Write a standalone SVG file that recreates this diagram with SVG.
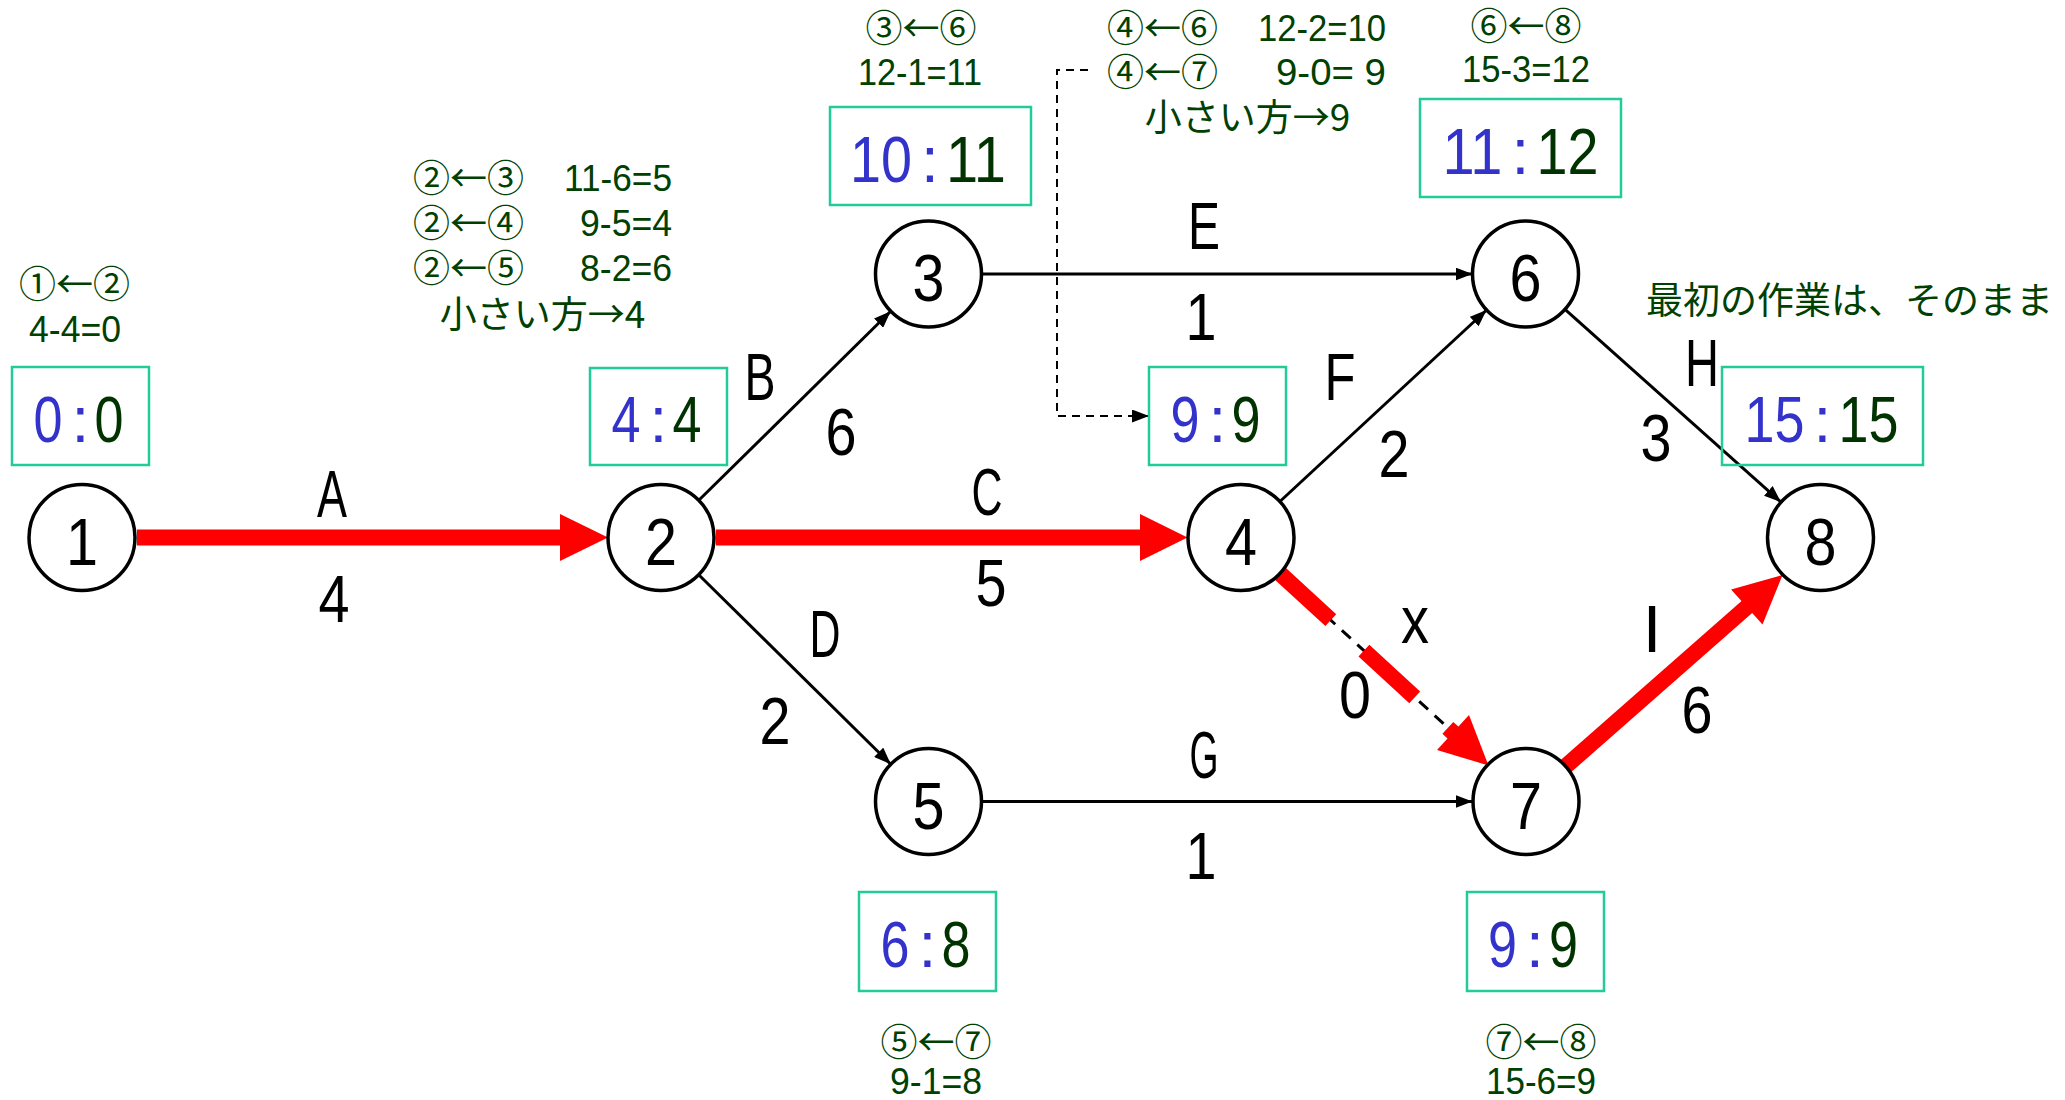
<svg xmlns="http://www.w3.org/2000/svg" width="2065" height="1100" viewBox="0 0 2065 1100">
<style>
.node{fill:#fff;stroke:#000;stroke-width:3.5}
.nl{font-family:'Liberation Sans',sans-serif;font-size:67px;fill:#000;text-anchor:middle}
.el{font-family:'Liberation Sans',sans-serif;font-size:67px;fill:#000;text-anchor:middle}
.box{fill:none;stroke:#22CC99;stroke-width:2.5}
.bt{font-family:'Liberation Sans',sans-serif;font-size:64px}
.es{fill:#3333CC}
.ls{fill:#003300}
.ann{font-family:'Liberation Sans','Noto Sans CJK JP',sans-serif;font-size:37px;fill:#004000}
.cjk{font-family:'Noto Sans CJK JP',sans-serif;font-size:37px;fill:#004000}
.blk{stroke:#000;stroke-width:3;fill:none}
.red{stroke:#FF0000;stroke-width:16;fill:none}
.redh{fill:#FF0000}
.mid{text-anchor:middle}
.end{text-anchor:end}
</style>
<defs>
<marker id="ah" markerUnits="userSpaceOnUse" viewBox="0 0 17 13" markerWidth="17" markerHeight="13" refX="17" refY="6.5" orient="auto">
<path d="M0,0 L17,6.5 L0,13 z" fill="#000"/>
</marker>
</defs>
<rect width="2065" height="1100" fill="#fff"/>

<g id="connectors">
<!-- A critical -->
<line class="red" x1="137" y1="537.5" x2="561" y2="537.5"/>
<polygon class="redh" points="560,514 608,537.5 560,561"/>
<!-- C critical -->
<line class="red" x1="716" y1="537.5" x2="1141" y2="537.5"/>
<polygon class="redh" points="1140,514 1187.5,537.5 1140,561"/>
<!-- B -->
<line class="blk" x1="698.8" y1="500.3" x2="890.7" y2="311.2" marker-end="url(#ah)"/>
<!-- D -->
<line class="blk" x1="698.7" y1="574.8" x2="890.8" y2="764.2" marker-end="url(#ah)"/>
<!-- E -->
<line class="blk" x1="981.5" y1="274" x2="1472.5" y2="274" marker-end="url(#ah)"/>
<!-- G -->
<line class="blk" x1="981.5" y1="801.5" x2="1472.5" y2="801.5" marker-end="url(#ah)"/>
<!-- F -->
<line class="blk" x1="1279.9" y1="501.5" x2="1486.6" y2="310" marker-end="url(#ah)"/>
<!-- H -->
<line class="blk" x1="1565" y1="309.3" x2="1781" y2="502.2" marker-end="url(#ah)"/>
<!-- x dummy (critical) -->
<line class="blk" x1="1280" y1="573.5" x2="1470" y2="748" stroke-dasharray="12 9"/>
<line class="red" x1="1280" y1="573.5" x2="1453.5" y2="733" stroke-dasharray="69 45"/>
<polygon class="redh" points="1437,750 1488.5,765.5 1469,715"/>
<!-- I critical -->
<line class="red" x1="1565.4" y1="766.6" x2="1748" y2="606"/>
<polygon class="redh" points="1731.1,589.6 1782.5,575 1762.5,624.6"/>
<!-- dashed pointer from annotation to box 9:9 -->
<path d="M1088,70 H1057 V416 H1149" fill="none" stroke="#000" stroke-width="2" stroke-dasharray="8 6" marker-end="url(#ah)"/>
</g>

<g id="edge-labels">
<text class="el" x="332" y="517" textLength="30" lengthAdjust="spacingAndGlyphs">A</text><text class="el" x="334" y="622" textLength="31" lengthAdjust="spacingAndGlyphs">4</text>
<text class="el" x="760" y="400" textLength="31" lengthAdjust="spacingAndGlyphs">B</text><text class="el" x="841" y="455" textLength="31" lengthAdjust="spacingAndGlyphs">6</text>
<text class="el" x="987" y="515" textLength="31" lengthAdjust="spacingAndGlyphs">C</text><text class="el" x="991" y="606" textLength="31" lengthAdjust="spacingAndGlyphs">5</text>
<text class="el" x="825" y="657" textLength="31" lengthAdjust="spacingAndGlyphs">D</text><text class="el" x="775" y="744" textLength="31" lengthAdjust="spacingAndGlyphs">2</text>
<text class="el" x="1204" y="249" textLength="32" lengthAdjust="spacingAndGlyphs">E</text><text class="el" x="1201" y="340" textLength="31" lengthAdjust="spacingAndGlyphs">1</text>
<text class="el" x="1340" y="400" textLength="31" lengthAdjust="spacingAndGlyphs">F</text><text class="el" x="1394" y="477" textLength="31" lengthAdjust="spacingAndGlyphs">2</text>
<text class="el" x="1204" y="778" textLength="29" lengthAdjust="spacingAndGlyphs">G</text><text class="el" x="1201" y="879" textLength="31" lengthAdjust="spacingAndGlyphs">1</text>
<text class="el" x="1702" y="386" textLength="34" lengthAdjust="spacingAndGlyphs">H</text><text class="el" x="1656" y="461" textLength="31" lengthAdjust="spacingAndGlyphs">3</text>
<text class="el" x="1652" y="652">I</text><text class="el" x="1697" y="733" textLength="31" lengthAdjust="spacingAndGlyphs">6</text>
<text class="el" x="1415" y="643" textLength="28" lengthAdjust="spacingAndGlyphs">x</text><text class="el" x="1355" y="718" textLength="32" lengthAdjust="spacingAndGlyphs">0</text>
</g>

<g id="node1">
<circle class="node" cx="82" cy="537.5" r="53"/>
<text class="nl" x="82" y="564.5" textLength="32" lengthAdjust="spacingAndGlyphs">1</text>
<rect class="box" x="12" y="367" width="137" height="98"/>
<text class="bt es end" x="62.5" y="442" textLength="29" lengthAdjust="spacingAndGlyphs">0</text><text class="bt es mid" x="80.5" y="442">:</text><text class="bt ls" x="94.5" y="442" textLength="29" lengthAdjust="spacingAndGlyphs">0</text>
<text class="cjk mid" x="74.6" y="298">①←②</text>
<text class="ann mid" x="75" y="342" textLength="92" lengthAdjust="spacingAndGlyphs">4-4=0</text>
</g>

<g id="node2">
<circle class="node" cx="661" cy="537.5" r="53"/>
<text class="nl" x="661" y="564.5" textLength="32" lengthAdjust="spacingAndGlyphs">2</text>
<rect class="box" x="590" y="368" width="137" height="97"/>
<text class="bt es end" x="640.5" y="442" textLength="29" lengthAdjust="spacingAndGlyphs">4</text><text class="bt es mid" x="658.5" y="442">:</text><text class="bt ls" x="672.5" y="442" textLength="29" lengthAdjust="spacingAndGlyphs">4</text>
<text class="cjk" x="413" y="192">②←③</text>
<text class="ann end" x="672" y="191" textLength="108" lengthAdjust="spacingAndGlyphs">11-6=5</text>
<text class="cjk" x="413" y="237">②←④</text>
<text class="ann end" x="672" y="236" textLength="92" lengthAdjust="spacingAndGlyphs">9-5=4</text>
<text class="cjk" x="413" y="282">②←⑤</text>
<text class="ann end" x="672" y="281" textLength="92" lengthAdjust="spacingAndGlyphs">8-2=6</text>
<text class="cjk mid" x="542.5" y="328">小さい方→4</text>
</g>

<g id="node3">
<circle class="node" cx="928.5" cy="274" r="53"/>
<text class="nl" x="928.5" y="301" textLength="32" lengthAdjust="spacingAndGlyphs">3</text>
<rect class="box" x="830" y="107" width="201" height="98"/>
<text class="bt es end" x="912" y="182" textLength="62" lengthAdjust="spacingAndGlyphs">10</text><text class="bt es mid" x="930" y="182">:</text><text class="bt ls" x="946" y="182" textLength="60" lengthAdjust="spacingAndGlyphs">11</text>
<text class="cjk mid" x="921" y="42">③←⑥</text>
<text class="ann mid" x="920" y="85" textLength="124" lengthAdjust="spacingAndGlyphs">12-1=11</text>
</g>

<g id="node4">
<circle class="node" cx="1241" cy="537.5" r="53"/>
<text class="nl" x="1241" y="564.5" textLength="32" lengthAdjust="spacingAndGlyphs">4</text>
<rect class="box" x="1149" y="367" width="137" height="98"/>
<text class="bt es end" x="1199.5" y="442" textLength="29" lengthAdjust="spacingAndGlyphs">9</text><text class="bt es mid" x="1217.5" y="442">:</text><text class="bt ls" x="1231.5" y="442" textLength="29" lengthAdjust="spacingAndGlyphs">9</text>
<text class="cjk" x="1107" y="42">④←⑥</text>
<text class="ann end" x="1386" y="41" textLength="128" lengthAdjust="spacingAndGlyphs">12-2=10</text>
<text class="cjk" x="1107" y="86">④←⑦</text>
<text class="ann end" x="1386" y="85" textLength="110" lengthAdjust="spacingAndGlyphs">9-0= 9</text>
<text class="cjk mid" x="1247.5" y="131">小さい方→9</text>
</g>

<g id="node5">
<circle class="node" cx="928.5" cy="801.5" r="53"/>
<text class="nl" x="928.5" y="828.5" textLength="32" lengthAdjust="spacingAndGlyphs">5</text>
<rect class="box" x="859" y="892" width="137" height="99"/>
<text class="bt es end" x="909.5" y="967" textLength="29" lengthAdjust="spacingAndGlyphs">6</text><text class="bt es mid" x="927.5" y="967">:</text><text class="bt ls" x="941.5" y="967" textLength="29" lengthAdjust="spacingAndGlyphs">8</text>
<text class="cjk mid" x="936" y="1056">⑤←⑦</text>
<text class="ann mid" x="936" y="1094" textLength="92" lengthAdjust="spacingAndGlyphs">9-1=8</text>
</g>

<g id="node6">
<circle class="node" cx="1525.5" cy="274" r="53"/>
<text class="nl" x="1525.5" y="301" textLength="32" lengthAdjust="spacingAndGlyphs">6</text>
<rect class="box" x="1420" y="99" width="201" height="98"/>
<text class="bt es end" x="1502.5" y="174" textLength="60" lengthAdjust="spacingAndGlyphs">11</text><text class="bt es mid" x="1520.5" y="174">:</text><text class="bt ls" x="1536.5" y="174" textLength="62" lengthAdjust="spacingAndGlyphs">12</text>
<text class="cjk mid" x="1526" y="40">⑥←⑧</text>
<text class="ann mid" x="1526" y="82" textLength="128" lengthAdjust="spacingAndGlyphs">15-3=12</text>
</g>

<g id="node7">
<circle class="node" cx="1526" cy="801.5" r="53"/>
<text class="nl" x="1526" y="828.5" textLength="32" lengthAdjust="spacingAndGlyphs">7</text>
<rect class="box" x="1467" y="892" width="137" height="99"/>
<text class="bt es end" x="1517" y="967" textLength="29" lengthAdjust="spacingAndGlyphs">9</text><text class="bt es mid" x="1535" y="967">:</text><text class="bt ls" x="1549" y="967" textLength="29" lengthAdjust="spacingAndGlyphs">9</text>
<text class="cjk mid" x="1541" y="1056">⑦←⑧</text>
<text class="ann mid" x="1541" y="1094" textLength="110" lengthAdjust="spacingAndGlyphs">15-6=9</text>
</g>

<g id="node8">
<circle class="node" cx="1820.5" cy="537.5" r="53"/>
<text class="nl" x="1820.5" y="564.5" textLength="32" lengthAdjust="spacingAndGlyphs">8</text>
<rect class="box" x="1722" y="367" width="201" height="98"/>
<text class="bt es end" x="1804.5" y="442" textLength="60" lengthAdjust="spacingAndGlyphs">15</text><text class="bt es mid" x="1822.5" y="442">:</text><text class="bt ls" x="1838.5" y="442" textLength="60" lengthAdjust="spacingAndGlyphs">15</text>
</g>

<g id="note">
<text class="cjk" x="1646" y="314">最初の作業は、そのまま</text>
</g>
</svg>
